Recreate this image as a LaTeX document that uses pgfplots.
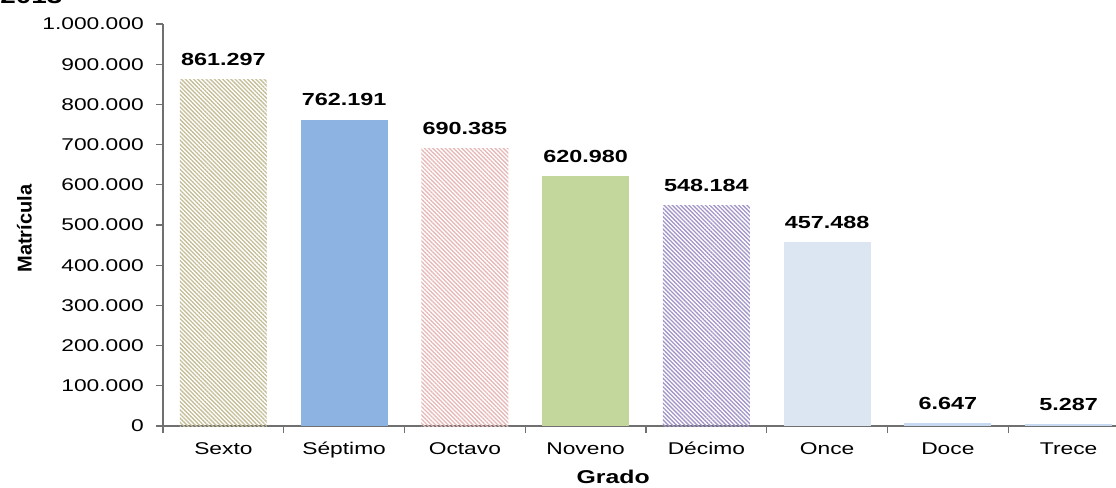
\documentclass[border=0pt]{standalone}
\usepackage{pgfplots}
\pgfplotsset{compat=1.18}
\usetikzlibrary{patterns.meta}
\usepackage{fontspec}
\setmainfont{Liberation Sans}[FakeStretch=1.34]
\newfontfamily\ylfont{Liberation Sans}
\definecolor{cSexto}{HTML}{C4BD97}
\definecolor{cSeptimo}{HTML}{8DB3E2}
\definecolor{cOctavo}{HTML}{E6B9B8}
\definecolor{cNoveno}{HTML}{C3D69B}
\definecolor{cDecimo}{HTML}{A395C8}
\definecolor{cOnce}{HTML}{DCE6F2}
\definecolor{cDoce}{HTML}{C6D9F1}
\definecolor{axgray}{HTML}{707070}
\pgfplotsset{
  /pgf/number format/1000 sep={.},
  /pgf/number format/fixed,
  /pgf/number format/precision=0,
  /pgf/number format/assume math mode=true,
  mybar/.style={ybar, bar width=65.25pt, bar shift=0pt, draw=none,
    nodes near coords, point meta=explicit symbolic,
    nodes near coords style={anchor=south, inner sep=0pt, yshift=10pt,
      font=\bfseries\fontsize{13.1pt}{15pt}\selectfont, text=black}},
  pat/.style={pattern={Lines[angle=-45,distance=2.2pt,line width=1.0pt]}, pattern color=#1},
}
\begin{document}
\begin{tikzpicture}
\begin{axis}[
  at={(122.25pt,45.75pt)}, anchor=south west,
  scale only axis, width=724.5pt, height=301.5pt,
  xmin=-0.5, xmax=7.5, ymin=0, ymax=1000000,
  axis x line*=bottom, axis y line*=left,
  axis line style={axgray, line width=0.8pt, -},
  tick style={axgray, line width=0.8pt},
  tick align=outside, major tick length=5.25pt,
  xtick={-0.5,0.5,1.5,2.5,3.5,4.5,5.5,6.5,7.5},
  xticklabels={},
  extra x ticks={0,1,2,3,4,5,6,7},
  extra x tick labels={Sexto,Séptimo,Octavo,Noveno,Décimo,Once,Doce,Trece},
  extra x tick style={major tick length=0pt, tick style={draw=none},
    xticklabel style={anchor=base, inner sep=0pt, yshift=-21pt}},
  ytick={0,100000,200000,300000,400000,500000,600000,700000,800000,900000,1000000},
  scaled y ticks=false,
  yticklabel={\pgfmathprintnumber[fixed,precision=0,1000 sep={.},assume math mode=true]{\tick}},
  yticklabel style={anchor=east, inner sep=0pt, xshift=-9pt},
  tick label style={font=\fontsize{12.75pt}{15pt}\selectfont},
  xlabel={Grado},
  xlabel style={at={(axis description cs:0.466,0)}, anchor=base, inner sep=0pt,
    yshift=-42.75pt, font=\bfseries\fontsize{13.9pt}{16pt}\selectfont},
  ylabel={Matrícula},
  ylabel style={at={(axis description cs:-0.1434,0.491)}, anchor=center, inner sep=0pt,
    font=\ylfont\bfseries\fontsize{15pt}{17pt}\selectfont},
  clip=false,
]
\addplot[mybar, pat=cSexto] coordinates {(0,861297) [861.297]};
\addplot[mybar, fill=cSeptimo] coordinates {(1,762191) [762.191]};
\addplot[mybar, pat=cOctavo] coordinates {(2,690385) [690.385]};
\addplot[mybar, fill=cNoveno] coordinates {(3,620980) [620.980]};
\addplot[mybar, pat=cDecimo] coordinates {(4,548184) [548.184]};
\addplot[mybar, fill=cOnce] coordinates {(5,457488) [457.488]};
\addplot[mybar, fill=cDoce] coordinates {(6,6647) [6.647]};
\addplot[mybar, fill=cDoce] coordinates {(7,5287) [5.287]};
\end{axis}
\node[anchor=south west, inner sep=0pt, font=\bfseries\fontsize{15.6pt}{18pt}\selectfont] at (0pt,362.25pt) {2013};
\pgfresetboundingbox
\useasboundingbox (0,0) rectangle (837pt,365.25pt);
\end{tikzpicture}
\end{document}
